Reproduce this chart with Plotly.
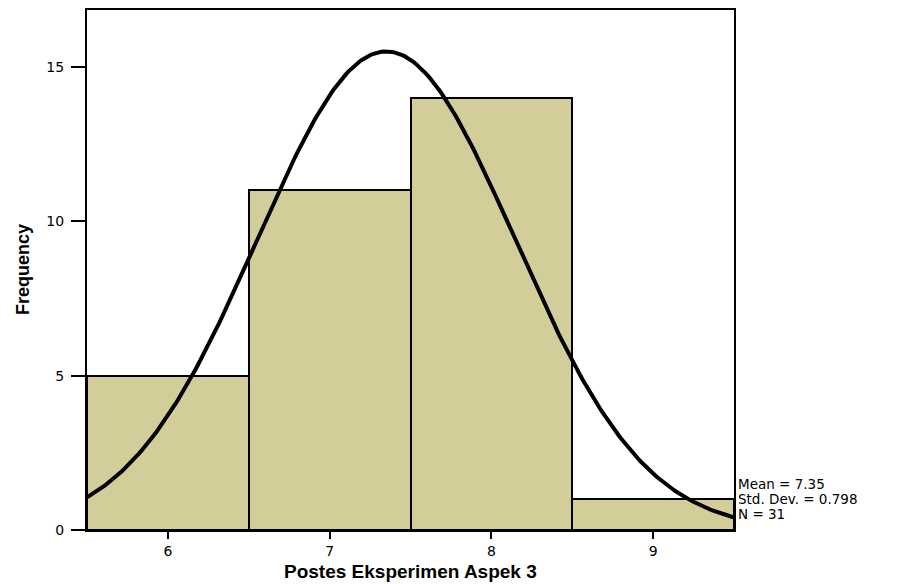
import numpy as np
import plotly.graph_objects as go

bin_centers = [6, 7, 8, 9]
frequencies = [5, 11, 14, 1]
mean_val = 7.35
std_dev = 0.798
n_obs = 31
bin_width = 1.0
x_ticks = [6, 7, 8, 9]
y_ticks = [0, 5, 10, 15]
stats_lines = ["Mean = 7.35", "Std. Dev. = 0.798", "N = 31"]

# fitted normal curve from the reported statistics
xc = np.linspace(5.5, 9.5, 300)
yc = n_obs * bin_width / (std_dev * np.sqrt(2 * np.pi)) * np.exp(-0.5 * ((xc - mean_val) / std_dev) ** 2)

fig = go.Figure()
fig.add_trace(go.Bar(x=bin_centers, y=frequencies, width=bin_width,
                     marker=dict(color="#d3ce99", line=dict(color="black", width=2)),
                     showlegend=False, hoverinfo="skip"))
fig.add_trace(go.Scatter(x=xc, y=yc, mode="lines", line=dict(color="black", width=4),
                         showlegend=False, hoverinfo="skip"))

annots = [
    dict(xref="paper", yref="paper", x=0.5, y=0, yshift=-41, xanchor="center", yanchor="middle",
         showarrow=False, text="<b>Postes Eksperimen Aspek 3</b>",
         font=dict(size=19, family="Liberation Sans, Arial, sans-serif", color="black")),
    dict(xref="paper", yref="paper", x=0, y=0.5, xshift=-64, yshift=0, xanchor="center", yanchor="middle",
         showarrow=False, textangle=-90, text="<b>Frequency</b>",
         font=dict(size=18, family="Liberation Sans Narrow, Arial Narrow, Liberation Sans, sans-serif", color="black")),
]
for i, line in enumerate(stats_lines):
    annots.append(dict(xref="paper", yref="paper", x=1.0, y=0, xshift=2, yshift=47 - 15 * i,
                       xanchor="left", yanchor="middle", align="left", valign="middle",
                       height=15, showarrow=False,
                       text=line, font=dict(size=13.5, family="DejaVu Sans, sans-serif", color="black")))

fig.update_layout(
    width=898, height=576,
    margin=dict(l=79, r=172, t=2, b=54, autoexpand=False),
    paper_bgcolor="white", plot_bgcolor="white",
    bargap=0,
    font=dict(family="DejaVu Sans, sans-serif", color="black"),
    xaxis=dict(range=[5.5, 9.5], tickvals=x_ticks, ticks="outside", ticklen=7, tickwidth=2,
               tickcolor="black", showgrid=False, zeroline=False, automargin=False,
               showline=True, linecolor="black", linewidth=2, mirror=True,
               tickfont=dict(size=14)),
    yaxis=dict(range=[0, 16.84], tickvals=y_ticks, ticks="outside", ticklen=14, tickwidth=2,
               tickcolor="black", showgrid=False, zeroline=False, automargin=False,
               showline=True, linecolor="black", linewidth=2, mirror=True,
               ticklabelstandoff=4, tickfont=dict(size=14)),
    annotations=annots,
)

fig.write_html("out.html")
